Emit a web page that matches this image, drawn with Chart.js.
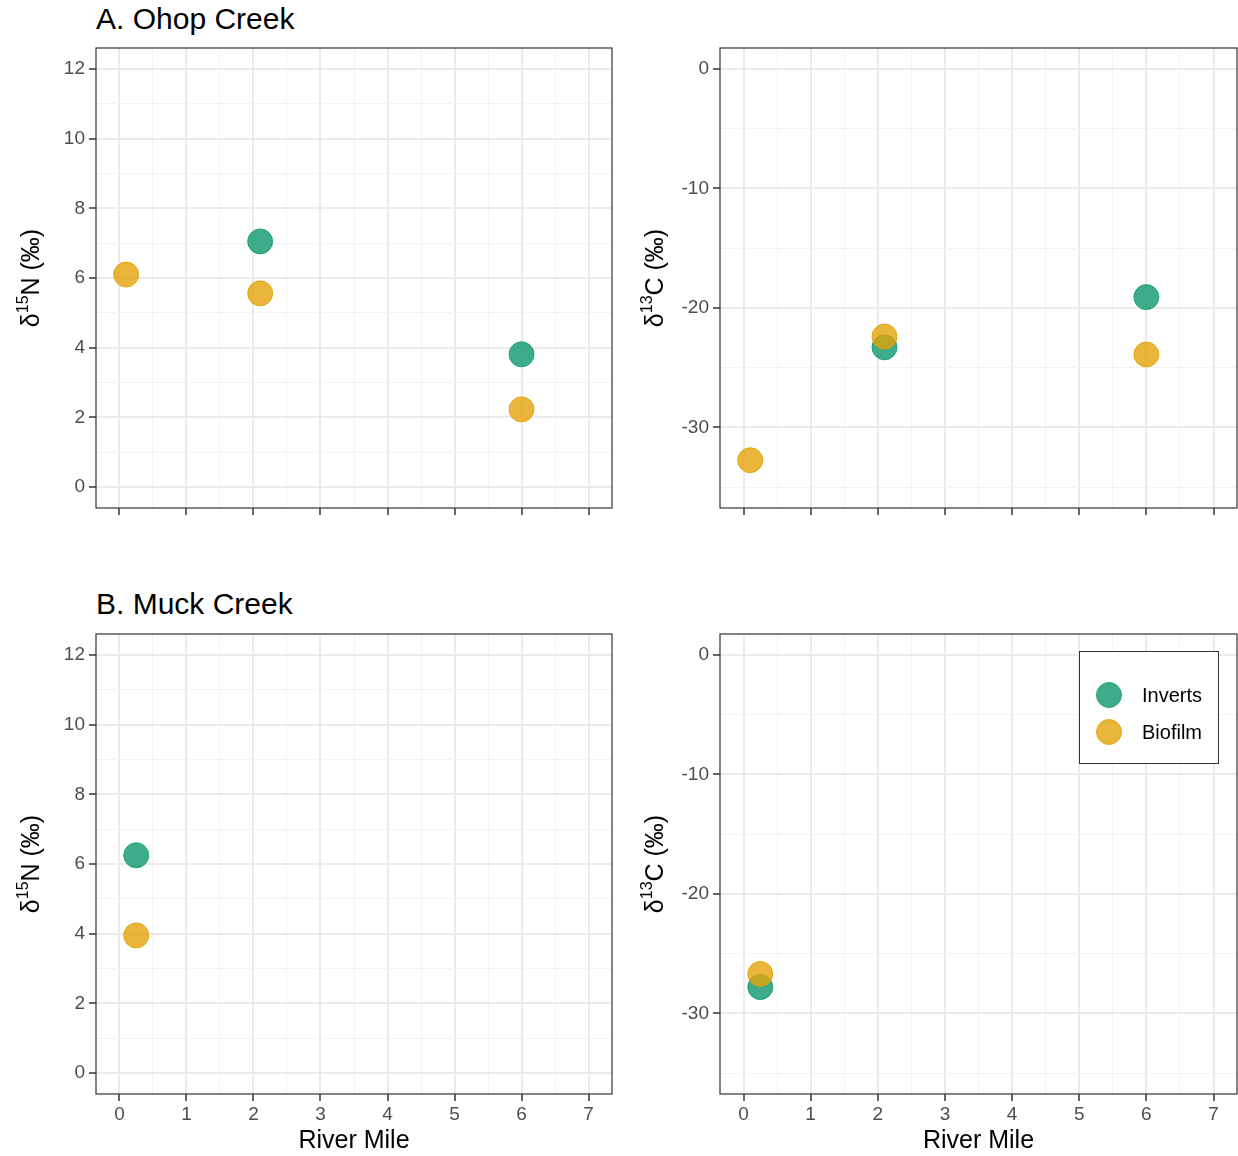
<!DOCTYPE html>
<html>
<head>
<meta charset="utf-8">
<script src="https://cdn.jsdelivr.net/npm/chart.js@4.4.0/dist/chart.umd.min.js"></script>
<style>
  html, body { margin: 0; padding: 0; background: #fff; }
  body { width: 1238px; height: 1156px; position: relative; overflow: hidden;
         font-family: "Liberation Sans", Arial, sans-serif; }
  canvas { position: absolute; }
  .tag { position: absolute; left: 96px; font-size: 30px; line-height: 1; color: #000; white-space: nowrap; }
</style>
</head>
<body>
<div class="tag" style="top:4px">A. Ohop Creek</div>
<div class="tag" style="top:589px">B. Muck Creek</div>
<canvas id="ohopN" width="620" height="480" style="left:0;top:40px"></canvas>
<canvas id="ohopC" width="614" height="480" style="left:624px;top:40px"></canvas>
<canvas id="muckN" width="620" height="530" style="left:0;top:626px"></canvas>
<canvas id="muckC" width="614" height="530" style="left:624px;top:626px"></canvas>
<script>
// River mile of each sample and its stable isotope values (‰)
const ohopInvertsMile = [2.1, 6.0];
const ohopInvertsN    = [7.05, 3.81];
const ohopInvertsC    = [-23.3, -19.1];

const ohopBiofilmMile = [0.1, 2.1, 6.0];
const ohopBiofilmN    = [6.1, 5.56, 2.23];
const ohopBiofilmC    = [-32.75, -22.4, -23.9];

const muckInvertsMile = [0.25];
const muckInvertsN    = [6.25];
const muckInvertsC    = [-27.8];

const muckBiofilmMile = [0.25];
const muckBiofilmN    = [3.95];
const muckBiofilmC    = [-26.7];

// Axis breaks
const mileTicks = [0, 1, 2, 3, 4, 5, 6, 7];
const nitrogenTicks = [0, 2, 4, 6, 8, 10, 12];
const carbonTicks = [-30, -20, -10, 0];

const seriesNames = ['Inverts', 'Biofilm'];
const seriesFill = ['rgba(27,158,119,0.85)', 'rgba(228,163,10,0.8)'];
const seriesEdge = ['rgba(27,158,119,0.9)', 'rgba(224,160,0,0.85)'];

const FONT = '"Liberation Sans", Arial, sans-serif';

function pts(xs, ys) { return xs.map((x, i) => ({ x: x, y: ys[i] })); }

function series(idx, xs, ys) {
  return {
    label: seriesNames[idx],
    data: pts(xs, ys),
    order: idx === 0 ? 2 : 1,        // biofilm drawn over inverts
    backgroundColor: seriesFill[idx],
    borderColor: seriesEdge[idx],
    borderWidth: 1,
    pointRadius: 12.5,
    pointHoverRadius: 12.5
  };
}

// halves between major steps become minor grid lines
function buildTicks(majors, lo, hi) {
  const step = majors[1] - majors[0];
  const out = [];
  for (let v = majors[0] - step; v <= majors[majors.length - 1] + step + 1e-9; v += step / 2) {
    if (v >= lo && v <= hi) out.push(v);
  }
  return out;
}
function isMajor(v, majors) { return majors.some(m => Math.abs(m - v) < 1e-9); }

function noScalePadding(s) {
  s.paddingTop = 0; s.paddingBottom = 0; s.paddingLeft = 0; s.paddingRight = 0;
}

const framePlugin = {
  id: 'frame',
  afterDraw(chart, args, opts) {
    const ctx = chart.ctx, a = chart.chartArea;
    ctx.save();
    ctx.strokeStyle = '#333333';
    ctx.lineWidth = 1.2;
    ctx.strokeRect(a.left, a.top, a.right - a.left, a.bottom - a.top);

    // y axis title with superscript mass number
    const midY = (a.top + a.bottom) / 2;
    const big = '25px ' + FONT, small = '16px ' + FONT;
    ctx.font = big;
    const w1 = ctx.measureText('δ').width;
    const w3 = ctx.measureText(opts.element + ' (‰)').width;
    ctx.font = small;
    const w2 = ctx.measureText(opts.iso).width;
    const total = w1 + w2 + w3;
    ctx.translate(39, midY);
    ctx.rotate(-Math.PI / 2);
    ctx.fillStyle = '#000';
    ctx.textBaseline = 'alphabetic';
    ctx.textAlign = 'left';
    let x = -total / 2;
    ctx.font = big;   ctx.fillText('δ', x, 0); x += w1;
    ctx.font = small; ctx.fillText(opts.iso, x, -11); x += w2;
    ctx.font = big;   ctx.fillText(opts.element + ' (‰)', x, 0);
    ctx.restore();

    if (opts.xTitle) {
      ctx.save();
      ctx.font = '25px ' + FONT;
      ctx.fillStyle = '#000';
      ctx.textAlign = 'center';
      ctx.textBaseline = 'alphabetic';
      ctx.fillText(opts.xTitle, (a.left + a.right) / 2, a.bottom + 54);
      ctx.restore();
    }

    if (opts.legend) {
      const L = opts.legend;
      ctx.save();
      ctx.fillStyle = '#fff';
      ctx.fillRect(L.x, L.y, L.w, L.h);
      ctx.strokeStyle = '#333333';
      ctx.lineWidth = 1;
      ctx.strokeRect(L.x + 0.5, L.y + 0.5, L.w, L.h);
      chart.data.datasets.forEach((ds, i) => {
        const cy = L.y + 44 + i * 37;
        ctx.beginPath();
        ctx.arc(L.x + 30, cy, 12.5, 0, Math.PI * 2);
        ctx.fillStyle = ds.backgroundColor;
        ctx.fill();
        ctx.strokeStyle = ds.borderColor;
        ctx.lineWidth = 1;
        ctx.stroke();
        ctx.fillStyle = '#000';
        ctx.font = '20px ' + FONT;
        ctx.textBaseline = 'middle';
        ctx.textAlign = 'left';
        ctx.fillText(ds.label, L.x + 63, cy + 1);
      });
      ctx.restore();
    }
  }
};

function axisGrid(majors) {
  return {
    drawOnChartArea: true,
    drawTicks: true,
    tickLength: 7,
    color: c => (c.tick && isMajor(c.tick.value, majors)) ? '#EBEBEB' : '#F3F3F3',
    lineWidth: c => (c.tick && isMajor(c.tick.value, majors)) ? 2 : 1,
    tickColor: c => (c.tick && isMajor(c.tick.value, majors)) ? '#333333' : 'rgba(0,0,0,0)',
    tickWidth: 1.5
  };
}

function makeChart(id, datasets, cfg) {
  return new Chart(document.getElementById(id), {
    type: 'scatter',
    data: { datasets: datasets },
    plugins: [framePlugin],
    options: {
      responsive: false,
      animation: false,
      layout: { autoPadding: false, padding: { top: 8, right: cfg.padRight, left: 0, bottom: 0 } },
      plugins: {
        legend: { display: false },
        tooltip: { enabled: false },
        frame: { iso: cfg.iso, element: cfg.element, xTitle: cfg.xTitle, legend: cfg.legend }
      },
      scales: {
        x: {
          type: 'linear',
          min: -0.35, max: 7.35,
          afterBuildTicks: s => { s.ticks = buildTicks(mileTicks, -0.35, 7.35).map(v => ({ value: v })); },
          afterFit: s => { s.height = cfg.xHeight; noScalePadding(s); },
          border: { display: false },
          grid: axisGrid(mileTicks),
          ticks: {
            autoSkip: false, maxRotation: 0, padding: 2,
            color: '#4D4D4D', font: { family: FONT, size: 19 },
            callback: v => (cfg.xTitle && isMajor(v, mileTicks)) ? String(v) : ''
          }
        },
        y: {
          type: 'linear',
          min: cfg.yMin, max: cfg.yMax,
          afterBuildTicks: s => { s.ticks = buildTicks(cfg.yTicks, cfg.yMin, cfg.yMax).map(v => ({ value: v })); },
          afterFit: s => { s.width = 96; noScalePadding(s); },
          border: { display: false },
          grid: axisGrid(cfg.yTicks),
          ticks: {
            autoSkip: false, padding: 4,
            color: '#4D4D4D', font: { family: FONT, size: 19 },
            callback: v => isMajor(v, cfg.yTicks) ? String(v) : ''
          }
        }
      }
    }
  });
}

const nCfg = { yMin: -0.6, yMax: 12.6, yTicks: nitrogenTicks, iso: '15', element: 'N' };
const cCfg = { yMin: -36.75, yMax: 1.75, yTicks: carbonTicks, iso: '13', element: 'C' };

makeChart('ohopN', [series(0, ohopInvertsMile, ohopInvertsN), series(1, ohopBiofilmMile, ohopBiofilmN)],
  Object.assign({}, nCfg, { padRight: 8, xHeight: 12 }));
makeChart('ohopC', [series(0, ohopInvertsMile, ohopInvertsC), series(1, ohopBiofilmMile, ohopBiofilmC)],
  Object.assign({}, cCfg, { padRight: 1, xHeight: 12 }));
makeChart('muckN', [series(0, muckInvertsMile, muckInvertsN), series(1, muckBiofilmMile, muckBiofilmN)],
  Object.assign({}, nCfg, { padRight: 8, xHeight: 62, xTitle: 'River Mile' }));
makeChart('muckC', [series(0, muckInvertsMile, muckInvertsC), series(1, muckBiofilmMile, muckBiofilmC)],
  Object.assign({}, cCfg, { padRight: 1, xHeight: 62, xTitle: 'River Mile',
    legend: { x: 455, y: 25, w: 139, h: 112 } }));
</script>
</body>
</html>
